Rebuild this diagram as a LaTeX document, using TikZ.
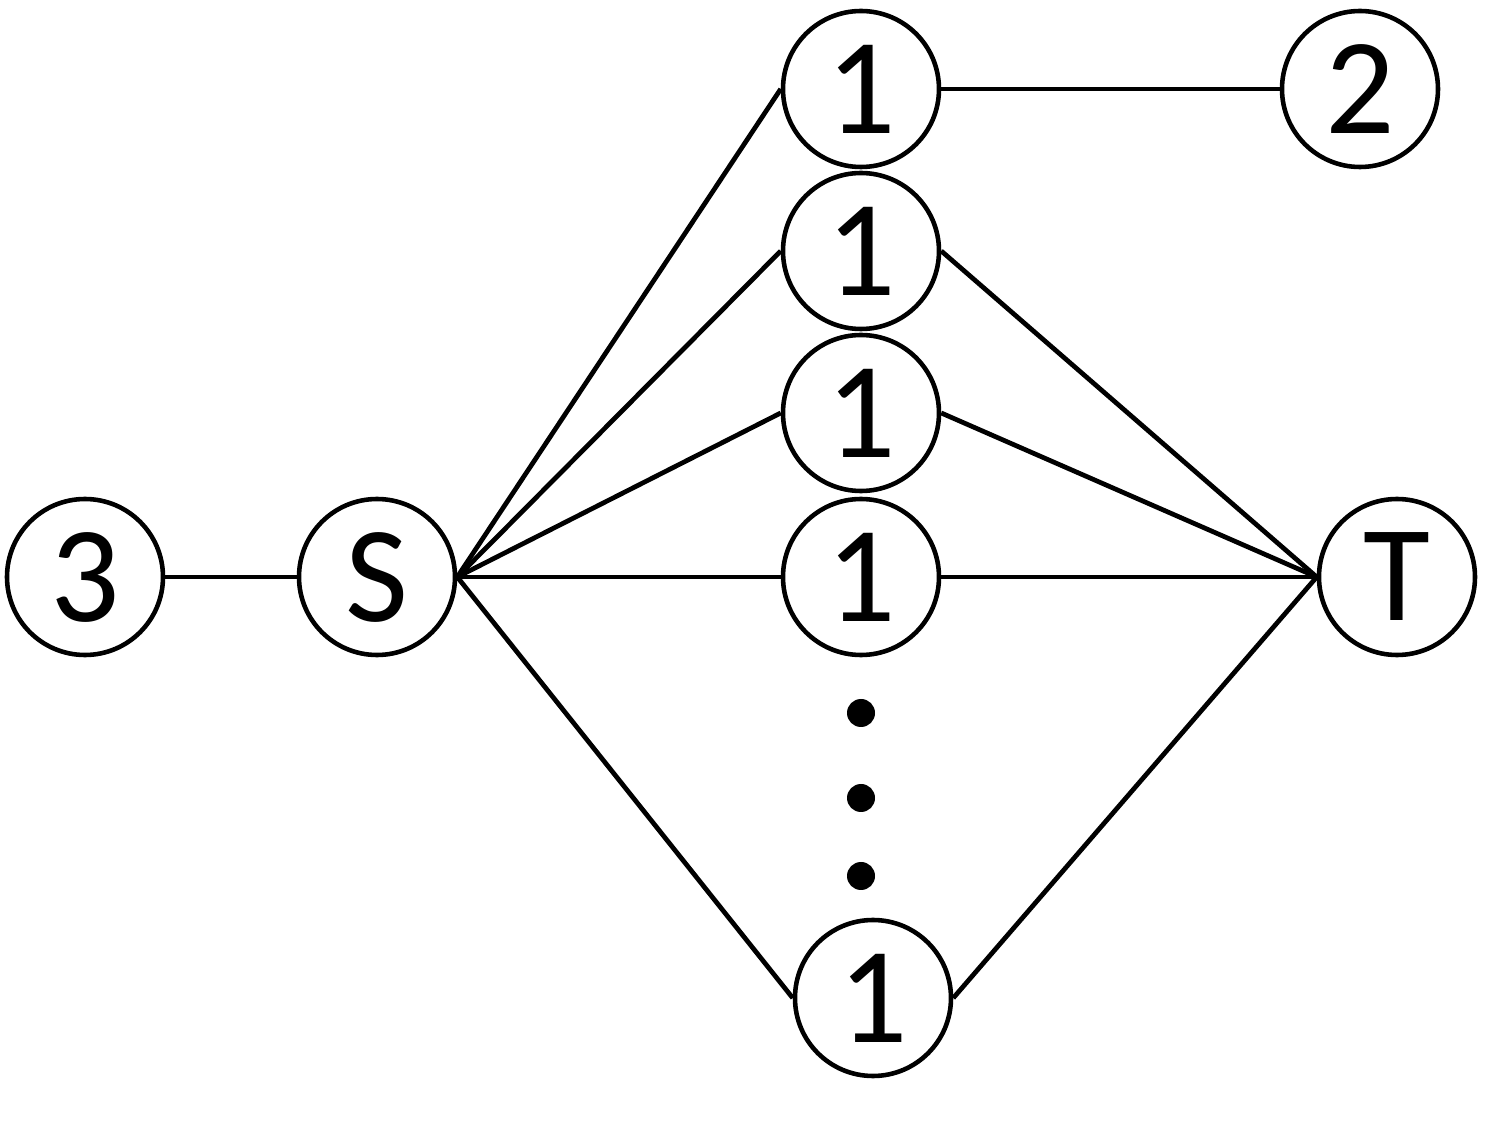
\documentclass[tikz,border=0pt]{standalone}
\usepackage{fontspec}
\setmainfont{Carlito}
\usepackage{tikz}

\tikzset{
  vert/.style={circle, draw, line width=1.3pt, minimum size=1.56cm, inner sep=0pt,
    font=\fontsize{39}{39}\selectfont},
  edge/.style={line width=1.35pt},
  dot/.style={circle, fill, minimum size=0.28cm, inner sep=0pt}
}

\begin{document}
\begin{tikzpicture}
\useasboundingbox (0,0) rectangle (15,11.25);
\node (three) [vert] at (0.85,5.48) {3};
\node (s) [vert] at (3.77,5.48) {S};
\node (onea) [vert] at (8.61,10.36) {1};
\node (two) [vert] at (13.60,10.36) {2};
\node (oneb) [vert] at (8.61,8.74) {1};
\node (onec) [vert] at (8.61,7.12) {1};
\node (oned) [vert] at (8.61,5.48) {1};
\node (t) [vert] at (13.97,5.48) {T};
\node (onee) [vert] at (8.73,1.27) {1};
\node (dota) [dot] at (8.61,4.12) {};
\node (dotb) [dot] at (8.61,3.27) {};
\node (dotc) [dot] at (8.61,2.49) {};
\draw [edge] (three.east) -- (s.west);
\draw [edge] (onea.east) -- (two.west);
\foreach \n in {onea,oneb,onec,oned,onee}
  \draw [edge] (s.east) -- (\n.west);
\foreach \n in {oneb,onec,oned,onee}
  \draw [edge] (\n.east) -- (t.west);
\end{tikzpicture}
\end{document}
